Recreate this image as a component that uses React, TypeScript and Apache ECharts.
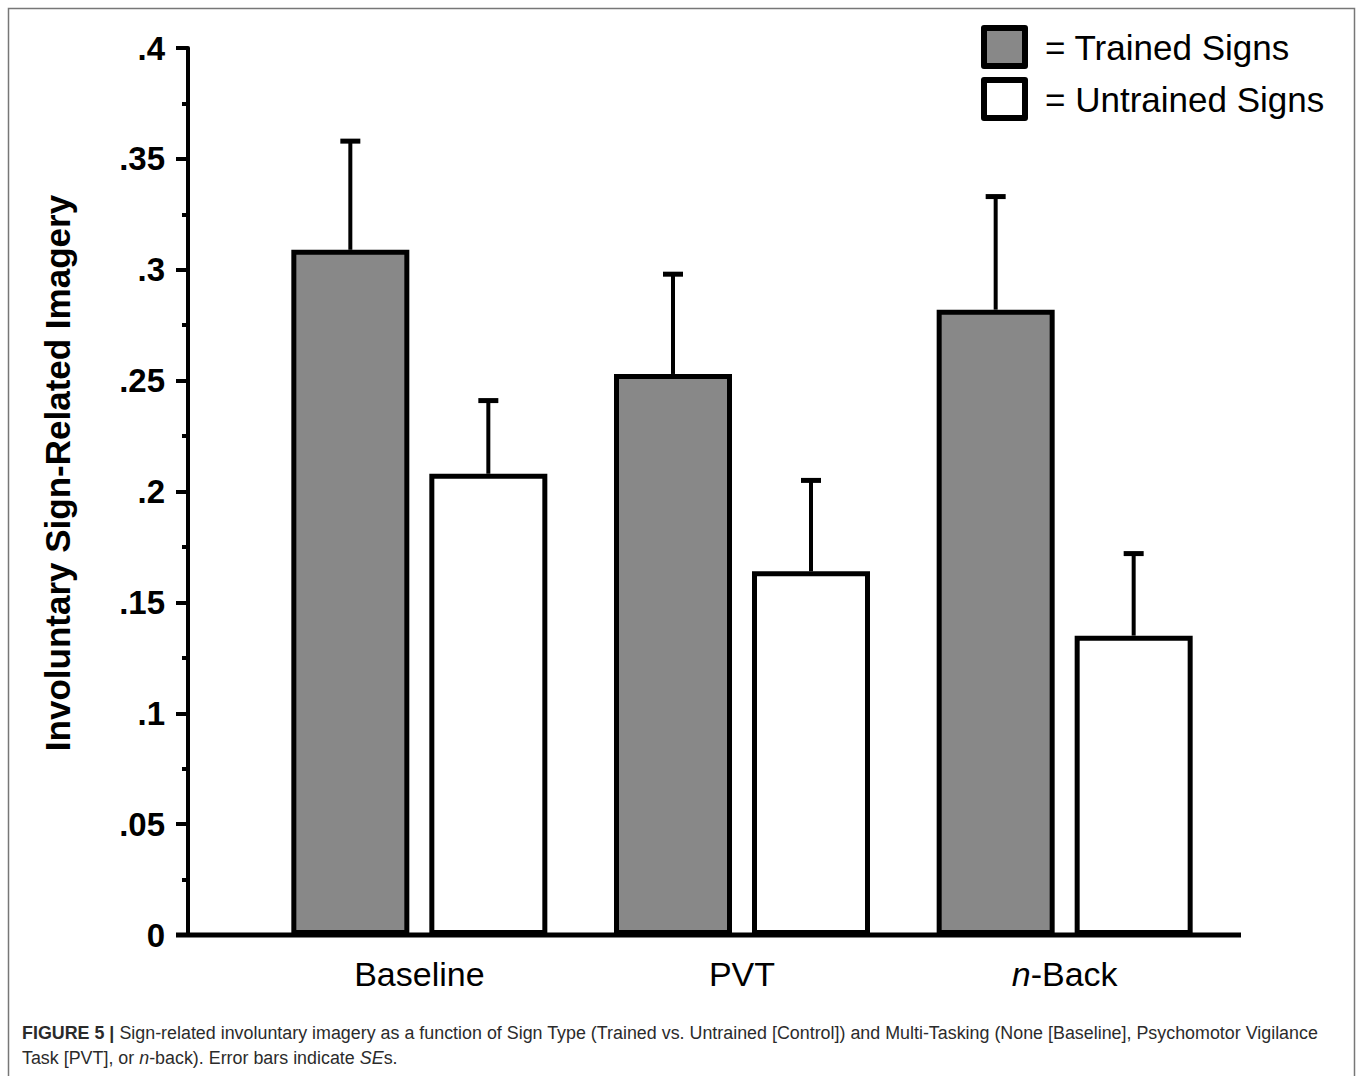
import React, { useEffect, useRef } from 'react';
import * as echarts from 'echarts';

const categories = ['Baseline', 'PVT', 'n-Back'];
const seriesNames = ['Trained Signs', 'Untrained Signs'];
const trainedMeans = [0.309, 0.253, 0.282];
const trainedSE = [0.049, 0.045, 0.051];
const untrainedMeans = [0.208, 0.164, 0.135];
const untrainedSE = [0.033, 0.041, 0.037];
const yTickLabels = ['0', '.05', '.1', '.15', '.2', '.25', '.3', '.35', '.4'];
const yAxisTitle = 'Involuntary Sign-Related Imagery';
const captionLine1 = '{b|FIGURE 5 |} Sign-related involuntary imagery as a function of Sign Type (Trained vs. Untrained [Control]) and Multi-Tasking (None [Baseline], Psychomotor Vigilance';
const captionLine2 = 'Task [PVT], or {i|n}-back). Error bars indicate {i|SE}s.';

const FONT = '"Liberation Sans", Arial, Helvetica, sans-serif';
const BAR_W = 118;
const BAR_GAP_PX = 20;
const OFFSET = (BAR_W + BAR_GAP_PX) / 2;

function errorRender(offset: number) {
  return (params: any, api: any) => {
    const idx = api.value(0);
    const mean = api.value(1);
    const top = api.value(2);
    const p0 = api.coord([idx, mean]);
    const p1 = api.coord([idx, top]);
    const x = p0[0] + offset;
    return {
      type: 'group',
      children: [
        { type: 'line', shape: { x1: x, y1: p0[1], x2: x, y2: p1[1] }, style: { stroke: '#000', lineWidth: 4 } },
        { type: 'line', shape: { x1: x - 10, y1: p1[1], x2: x + 10, y2: p1[1] }, style: { stroke: '#000', lineWidth: 5 } },
      ],
    };
  };
}

export default function App() {
  const ref = useRef<HTMLDivElement>(null);
  useEffect(() => {
    if (!ref.current) return;
    const chart = echarts.init(ref.current, undefined, { renderer: 'svg' });
    const option: any = {
      animation: false,
      backgroundColor: '#fff',
      legend: {
        data: seriesNames,
        orient: 'vertical',
        left: 981,
        top: 25,
        padding: 0,
        itemWidth: 41,
        itemHeight: 38,
        itemGap: 8,
        icon: 'rect',
        itemStyle: { borderWidth: 6, borderColor: '#000', borderJoin: 'round' },
        formatter: (name: string) => '= ' + name,
        textStyle: { fontFamily: FONT, fontSize: 35, color: '#000', lineHeight: 38, padding: [0, 0, 0, 15] },
        selectedMode: false,
      },
      grid: { left: 258, right: 132, top: 48, bottom: 141 },
      xAxis: {
        type: 'category',
        data: categories,
        axisLine: { show: false },
        axisTick: { show: false },
        axisLabel: {
          margin: 22,
          fontFamily: FONT,
          fontSize: 34,
          color: '#000',
          formatter: (v: string) => (v === 'n-Back' ? '{i|n}-Back' : v),
          rich: { i: { fontFamily: FONT, fontSize: 34, fontStyle: 'italic', color: '#000' } },
        },
      },
      yAxis: {
        type: 'value',
        min: 0,
        max: 0.4,
        interval: 0.05,
        offset: 70,
        splitLine: { show: false },
        axisLine: { show: true, lineStyle: { color: '#000', width: 4 } },
        axisTick: { show: true, length: 12, lineStyle: { color: '#000', width: 4 } },
        minorTick: { show: true, splitNumber: 2, length: 6, lineStyle: { color: '#000', width: 4 } },
        axisLabel: {
          margin: 23,
          fontFamily: FONT,
          fontSize: 33,
          fontWeight: 'bold',
          color: '#000',
          formatter: (v: number) => yTickLabels[Math.round(v / 0.05)] ?? '',
        },
      },
      series: [
        {
          name: seriesNames[0],
          type: 'bar',
          data: trainedMeans,
          barWidth: BAR_W,
          barGap: (BAR_GAP_PX / BAR_W) * 100 + '%',
          z: 3,
          itemStyle: { color: '#888888', borderColor: '#000', borderWidth: 5 },
        },
        {
          name: seriesNames[1],
          type: 'bar',
          data: untrainedMeans,
          barWidth: BAR_W,
          z: 3,
          itemStyle: { color: '#ffffff', borderColor: '#000', borderWidth: 5 },
        },
        {
          name: 'Trained SE',
          type: 'custom',
          z: 2,
          data: categories.map((_, i) => [i, trainedMeans[i], trainedMeans[i] + trainedSE[i]]),
          encode: { x: 0, y: [1, 2] },
          renderItem: errorRender(-OFFSET),
        },
        {
          name: 'Untrained SE',
          type: 'custom',
          z: 2,
          data: categories.map((_, i) => [i, untrainedMeans[i], untrainedMeans[i] + untrainedSE[i]]),
          encode: { x: 0, y: [1, 2] },
          renderItem: errorRender(OFFSET),
        },
      ],
      graphic: [
        {
          type: 'rect',
          shape: { x: 8.5, y: 8.5, width: 1346, height: 1100 },
          style: { fill: 'none', stroke: '#777', lineWidth: 1.5 },
          silent: true,
        },
        {
          type: 'line',
          shape: { x1: 176, y1: 935, x2: 1241, y2: 935 },
          style: { stroke: '#000', lineWidth: 5 },
          z: 10,
        },
        {
          type: 'text',
          x: 57,
          y: 473,
          rotation: Math.PI / 2,
          style: {
            text: yAxisTitle,
            fontFamily: FONT,
            fontSize: 35,
            fontWeight: 'bold',
            fill: '#000',
            align: 'center',
            verticalAlign: 'middle',
          },
        },
        {
          type: 'text',
          x: 22,
          y: 1020,
          scaleX: 0.941,
          style: {
            text: captionLine1 + '\n' + captionLine2,
            fontFamily: FONT,
            fontSize: 19,
            lineHeight: 25,
            fill: '#2b2b2b',
            align: 'left',
            verticalAlign: 'top',
            rich: {
              b: { fontFamily: FONT, fontSize: 19, fontWeight: 'bold', fill: '#2b2b2b', lineHeight: 25 },
              i: { fontFamily: FONT, fontSize: 19, fontStyle: 'italic', fill: '#2b2b2b', lineHeight: 25 },
            },
          },
        },
      ],
    };
    chart.setOption(option);
    return () => chart.dispose();
  }, []);
  return (
    <div
      ref={ref}
      style={{ position: 'fixed', left: 0, top: 0, width: 1358, height: 1076, background: '#fff' }}
    />
  );
}
